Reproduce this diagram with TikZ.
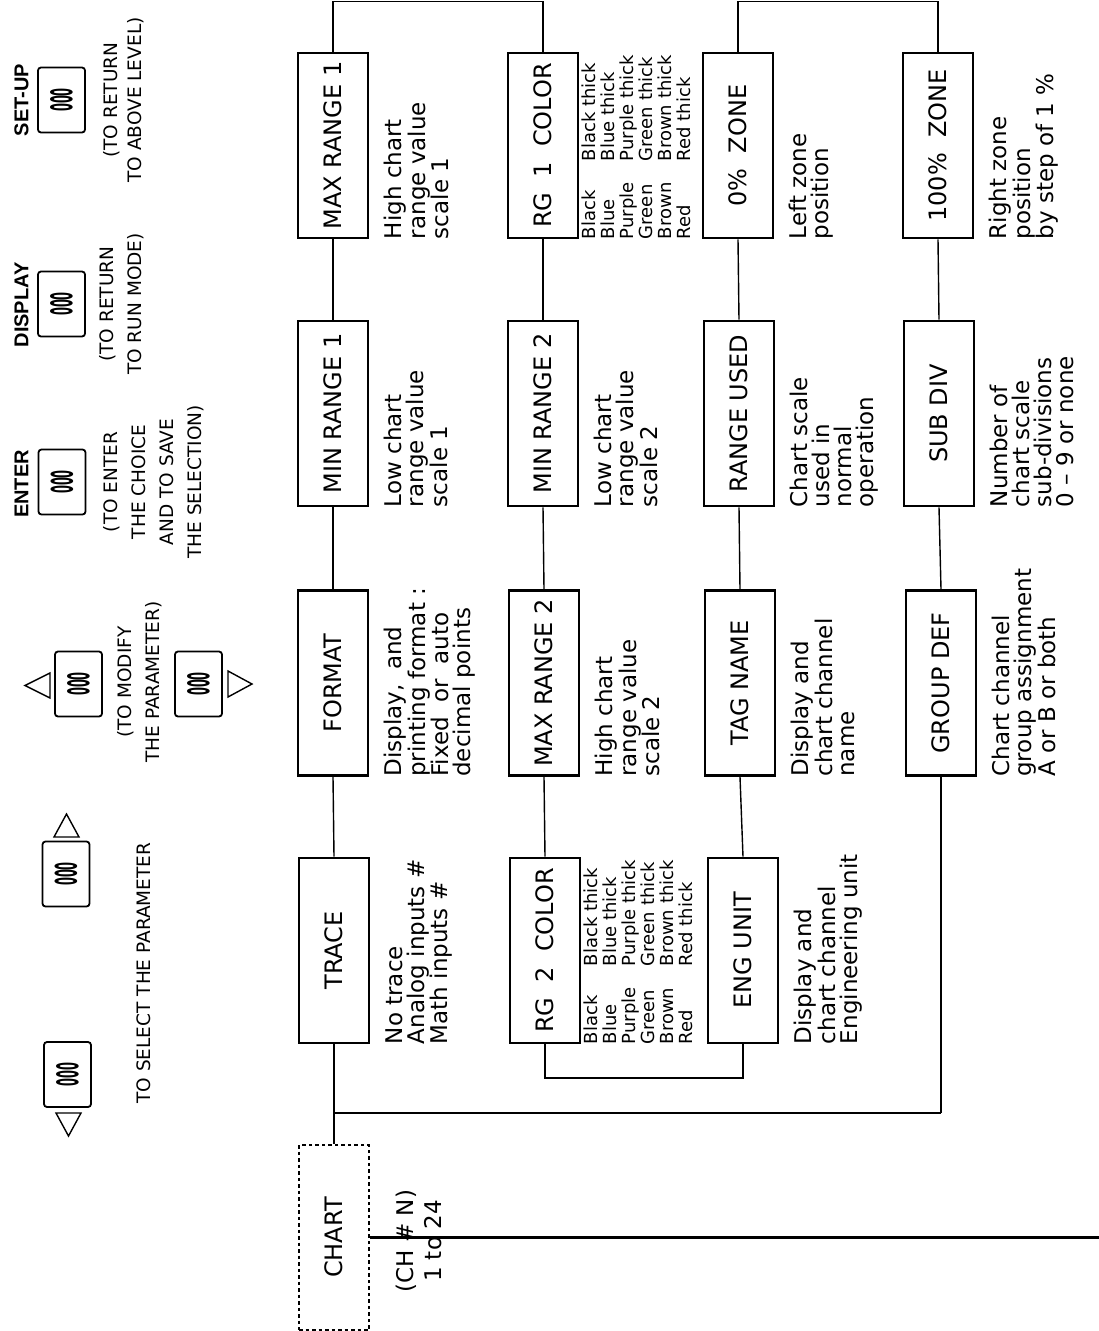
\documentclass[tikz,border=0pt]{standalone}
\usepackage{graphicx}
\usepackage{fontspec}
\setmainfont{DejaVu Sans}
\newfontfamily\keyfont{Liberation Sans}
\newcommand{\keyglyph}{\rotatebox{90}{\scalebox{0.38}[1]{\fontsize{30}{30}\selectfont\bfseries 000}}}
\newcommand{\colline}[1]{\makebox[78pt][l]{#1}#1 thick}
\newcommand{\colorlist}{\colline{Black}\\\colline{Blue}\\\colline{Purple}\\\colline{Green}\\\colline{Brown}\\\colline{Red}}
\begin{document}
\begin{tikzpicture}[x=1pt,y=-1pt,
  box/.style={draw,line width=2.6pt,minimum width=70pt,minimum height=185pt,inner sep=0pt,font=\fontsize{24}{24}\selectfont},
  chartbox/.style={box,dash pattern=on 3.5pt off 3pt,line width=2.4pt},
  desc/.style={rotate=90,anchor=north west,inner sep=0pt,align=left,font=\fontsize{23}{22}\selectfont},
  clist/.style={rotate=90,anchor=north west,inner sep=0pt,align=left,font=\fontsize{18}{19}\selectfont},
  keybox/.style={draw,line width=1.8pt,rounded corners=3pt,minimum width=47pt,minimum height=65pt,inner sep=0pt},
  keylbl/.style={rotate=90,inner sep=0pt,font=\keyfont\bfseries\fontsize{20}{20}\selectfont},
  keytxt/.style={rotate=90,inner sep=0pt,align=center,font=\fontsize{18.5}{28}\selectfont},
  conn/.style={line width=1.4pt},
  heavy/.style={line width=2.6pt},
  tri/.style={line width=1.4pt,line join=miter}
]
\useasboundingbox (0,0) rectangle (1099,1331);

% ---------- key legend ----------
\node[keylbl] (lset) at (21.5,100) {SET-UP};
\node[keybox] (kset) at (61.5,100) {\keyglyph};
\node[keytxt,font=\fontsize{18.5}{24}\selectfont] (tset) at (124,100) {(TO RETURN\\TO ABOVE LEVEL)};

\node[keylbl] (ldisp) at (21.5,305) {DISPLAY};
\node[keybox] (kdisp) at (61.5,304) {\keyglyph};
\node[keytxt] (tdisp) at (122,304) {(TO RETURN\\TO RUN MODE)};

\node[keylbl] (lent) at (21.5,484) {ENTER};
\node[keybox] (kent) at (62,482) {\keyglyph};
\node[keytxt] (tent) at (154,482) {(TO ENTER\\THE CHOICE\\AND TO SAVE\\THE SELECTION)};

\node[keybox] (kup) at (78.5,684) {\keyglyph};
\node[keybox] (kdn) at (198.5,684) {\keyglyph};
\node[keytxt] (tmod) at (140,682) {(TO MODIFY\\THE PARAMETER)};
\draw[tri] (25,685.5) -- (50,673) -- (50,698) -- cycle;
\draw[tri] (252,684) -- (228,671) -- (228,697) -- cycle;

\node[keybox] (ksel1) at (66,874) {\keyglyph};
\node[keybox] (ksel2) at (67.5,1074.5) {\keyglyph};
\node[keytxt] (tsel) at (143.5,973) {TO SELECT THE PARAMETER};
\draw[tri] (66.5,814) -- (54,837) -- (79,837) -- cycle;
\draw[tri] (68.5,1136) -- (56,1113) -- (81,1113) -- cycle;

% ---------- menu boxes ----------
\node[box] (max1) at (333,145.5) {\rotatebox{90}{MAX RANGE 1}};
\node[box] (min1) at (333,413.5) {\rotatebox{90}{MIN RANGE 1}};
\node[box] (fmt)  at (333,683)   {\rotatebox{90}{FORMAT}};
\node[box] (trc)  at (334,950.5) {\rotatebox{90}{TRACE}};
\node[chartbox] (chart) at (334,1237.5) {\rotatebox{90}{CHART}};

\node[box] (rg1)  at (543,145.5) {\rotatebox{90}{RG~ 1~ COLOR}};
\node[box] (min2) at (543,413.5) {\rotatebox{90}{MIN RANGE 2}};
\node[box] (max2) at (544,683)   {\rotatebox{90}{MAX RANGE 2}};
\node[box] (rg2)  at (545,950.5) {\rotatebox{90}{RG~ 2~ COLOR}};

\node[box] (z0)   at (738,145.5) {\rotatebox{90}{0\%~ ZONE}};
\node[box] (rused) at (739,413.5) {\rotatebox{90}{RANGE USED}};
\node[box] (tag)  at (740,683)   {\rotatebox{90}{TAG NAME}};
\node[box] (eng)  at (743,950.5) {\rotatebox{90}{ENG UNIT}};

\node[box] (z100) at (938,145.5) {\rotatebox{90}{100\%~ ZONE}};
\node[box] (sub)  at (939,413.5) {\rotatebox{90}{SUB DIV}};
\node[box] (grp)  at (941,683)   {\rotatebox{90}{GROUP DEF}};

% ---------- descriptions ----------
\node[desc] (dmax1) at ([xshift=15pt]max1.south east) {High chart\\range value\\scale 1};
\node[desc] (dmin1) at ([xshift=15pt]min1.south east) {Low chart\\range value\\scale 1};
\node[desc] (dfmt)  at ([xshift=15pt]fmt.south east) {Display,~ and\\printing format :\\Fixed~ or~ auto\\decimal points};
\node[desc] (dtrc)  at ([xshift=15pt]trc.south east) {No trace\\Analog inputs \#\\Math inputs \#};
\node[desc,align=center,font=\fontsize{23}{28}\selectfont] (dchart) at ([xshift=26pt,yshift=-55pt]chart.east) {(CH \# N)\\1 to 24};

\node[clist] (crg1) at ([xshift=2pt]rg1.south east) {\colorlist};
\node[desc] (dmin2) at ([xshift=15pt]min2.south east) {Low chart\\range value\\scale 2};
\node[desc] (dmax2) at ([xshift=15pt]max2.south east) {High chart\\range value\\scale 2};
\node[clist] (crg2) at ([xshift=2pt]rg2.south east) {\colorlist};

\node[desc] (dz0)  at ([xshift=15pt]z0.south east) {Left zone\\position};
\node[desc] (dru)  at ([xshift=15pt]rused.south east) {Chart scale\\used in\\normal\\operation};
\node[desc] (dtag) at ([xshift=15pt]tag.south east) {Display and\\chart channel\\name};
\node[desc] (deng) at ([xshift=15pt]eng.south east) {Display and\\chart channel\\Engineering unit};

\node[desc] (dz100) at ([xshift=15pt]z100.south east) {Right zone\\position\\by step of 1 \%};
\node[desc] (dsub)  at ([xshift=15pt]sub.south east) {Number of\\chart scale\\sub-divisions\\0 – 9 or none};
\node[desc] (dgrp)  at ([xshift=15pt]grp.south east) {Chart channel\\group assignment\\A or B or both};

% ---------- connectors ----------
\coordinate (topline) at (0,1.5);
\coordinate (bracket) at (0,1078);
\coordinate (loop) at (0,1113);
\coordinate (rightedge) at (1099,0);

\draw[conn] (chart.north) -- (trc.south);
\draw[conn] (trc.north) -- (fmt.south);
\draw[conn] (fmt.north) -- (min1.south);
\draw[conn] (min1.north) -- (max1.south);
\draw[conn] (max1.north) -- (max1.north |- topline) -| (rg1.north);
\draw[conn] (rg1.south) -- (min2.north);
\draw[conn] (min2.south) -- (max2.north);
\draw[conn] (max2.south) -- (rg2.north);
\draw[conn] (rg2.south) -- (rg2.south |- bracket) -| (eng.south);
\draw[conn] (eng.north) -- (tag.south);
\draw[conn] (tag.north) -- (rused.south);
\draw[conn] (rused.north) -- (z0.south);
\draw[conn] (z0.north) -- (z0.north |- topline) -| (z100.north);
\draw[conn] (z100.south) -- (sub.north);
\draw[conn] (sub.south) -- (grp.north);
\draw[conn] (grp.south) -- (grp.south |- loop);
\draw[heavy] (grp.south |- loop) -- (chart.north |- loop);
\draw[heavy] (chart.east) -- (chart.east -| rightedge);
\end{tikzpicture}
\end{document}
